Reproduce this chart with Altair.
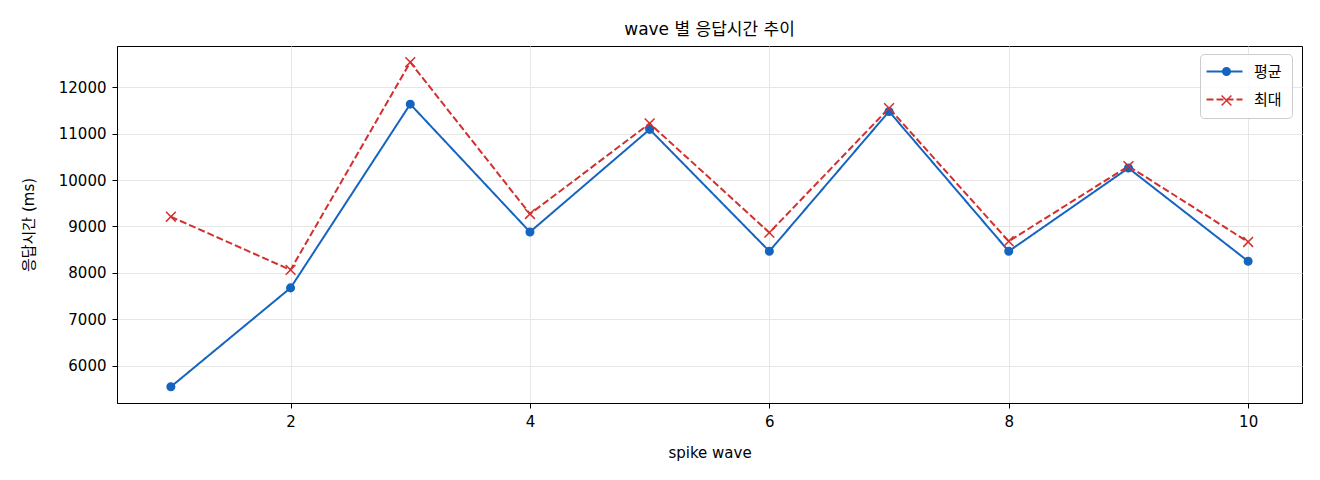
"""Line chart of response time per spike wave (mean vs. max)."""

import altair as alt
import pandas as pd

waves = [1, 2, 3, 4, 5, 6, 7, 8, 9, 10]
avg_ms = [5541, 7675, 11640, 8882, 11095, 8466, 11483, 8466, 10261, 8250]
max_ms = [9211, 8063, 12545, 9270, 11224, 8867, 11554, 8681, 10304, 8666]

series_names = ['평균', '최대']
series_colors = ['#1565c0', '#d32f2f']
y_ticks = [6000, 7000, 8000, 9000, 10000, 11000, 12000]
x_ticks = [2, 4, 6, 8, 10]

FONT = 'DejaVu Sans, Noto Sans CJK KR'

rows = []
for name, values in zip(series_names, [avg_ms, max_ms]):
    for w, v in zip(waves, values):
        rows.append({'wave': w, 'ms': v, 'series': name, 'marker': name})
df = pd.DataFrame(rows)

# legend of the lines (box, dashes, labels)
line_legend = dict(
    orient='none', legendX=1083, legendY=8, title=None,
    padding=10, rowPadding=12, fillColor='rgba(255,255,255,0.85)',
    strokeColor='#cccccc', cornerRadius=4,
    symbolType='M-1.83,0L4.17,0', symbolSize=144, symbolStrokeWidth=2,
    labelFont=FONT, labelFontSize=15, labelColor='#000000', labelOffset=29,
)

base = alt.Chart(df).encode(
    x=alt.X('wave:Q', scale=alt.Scale(domain=[0.55, 10.45], nice=False, zero=False),
            axis=alt.Axis(values=x_ticks, title='spike wave', format='d',
                          titleY=54, titleBaseline='alphabetic')),
    y=alt.Y('ms:Q', scale=alt.Scale(domain=[5191, 12895], nice=False, zero=False),
            axis=alt.Axis(values=y_ticks, title='응답시간 (ms)', format='d',
                          titleX=-89, titleY=178.5, titleAlign='center',
                          titleBaseline='middle', titleAngle=-90)),
    order='wave:Q',
)

lines = base.mark_line(strokeWidth=2).encode(
    color=alt.Color('series:N', scale=alt.Scale(domain=series_names, range=series_colors),
                    legend=alt.Legend(**line_legend)),
    strokeDash=alt.StrokeDash('series:N',
                              scale=alt.Scale(domain=series_names, range=[[1, 0], [7, 3]]),
                              legend=alt.Legend(**line_legend)),
)

# markers, with a second legend laid over the first one (no labels of its own)
marker_legend = alt.Legend(
    orient='none', legendX=1092, legendY=8, title=None,
    padding=10, rowPadding=12, symbolSize=57, symbolStrokeWidth=1.5,
    symbolFillColor=alt.ExprRef(f"datum.value === '평균' ? '{series_colors[0]}' : 'transparent'"),
    symbolStrokeColor=alt.ExprRef(
        f"datum.value === '평균' ? '{series_colors[0]}' : '{series_colors[1]}'"),
    labelFont=FONT, labelFontSize=15, labelExpr="''", zindex=1,
)

points = base.mark_point(size=57, strokeWidth=1.5, opacity=1).encode(
    shape=alt.Shape('marker:N', sort=series_names, scale=alt.Scale(
        range=['circle', 'M-1.3,-1.3L1.3,1.3M-1.3,1.3L1.3,-1.3']), legend=marker_legend),
    fill=alt.Fill('marker:N', sort=series_names,
                  scale=alt.Scale(range=[series_colors[0], 'transparent']), legend=None),
    stroke=alt.Stroke('marker:N', sort=series_names, scale=alt.Scale(range=series_colors),
                      legend=None),
)

chart = alt.layer(lines, points).properties(
    width=1185, height=357,
    title=alt.TitleParams('wave 별 응답시간 추이', font=FONT, fontSize=17,
                          fontWeight='normal', color='#000000', offset=7),
    padding={'left': 109, 'top': 38, 'right': 10, 'bottom': 60},
    autosize=alt.AutoSizeParams(type='none'),
).configure_view(
    stroke='#000000', strokeWidth=1,
).configure_axis(
    labelFont=FONT, labelFontSize=15, labelColor='#000000', labelPadding=6,
    titleFont=FONT, titleFontSize=15, titleFontWeight='normal', titleColor='#000000',
    tickColor='#000000', tickSize=5, domainColor='#000000',
    gridColor='#e6e6e6', gridWidth=1,
)

chart.save('out.html', embed_options={'renderer': 'svg', 'actions': False})
